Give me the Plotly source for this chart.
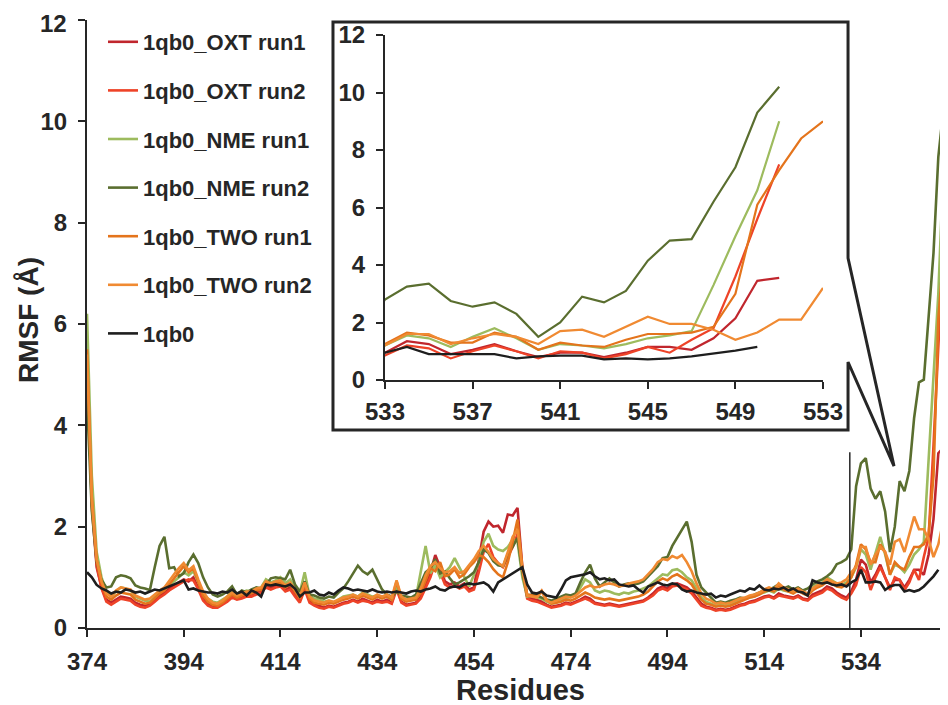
import plotly.graph_objects as go

# ---------------- data ----------------
residues = list(range(374, 554))
main_ticks = [374, 394, 414, 434, 454, 474, 494, 514, 534]
inset_ticks = [533, 537, 541, 545, 549, 553]
y_ticks = [0, 2, 4, 6, 8, 10, 12]

oxt_run1 = [
    5.20, 2.40, 1.20, 0.80, 0.56, 0.50, 0.56, 0.62, 0.60, 0.58,
    0.50, 0.46, 0.44, 0.46, 0.56, 0.64, 0.70, 0.78, 0.84, 0.90,
    0.96, 0.92, 1.00, 0.80, 0.58, 0.48, 0.44, 0.42, 0.48, 0.56,
    0.64, 0.58, 0.62, 0.64, 0.66, 0.70, 0.72, 0.84, 0.80, 0.84,
    0.86, 0.76, 0.80, 0.66, 0.54, 0.80, 0.54, 0.46, 0.44, 0.40,
    0.44, 0.42, 0.46, 0.50, 0.52, 0.56, 0.52, 0.58, 0.54, 0.50,
    0.56, 0.52, 0.56, 0.50, 0.80, 0.52, 0.46, 0.48, 0.50, 0.62,
    0.86, 1.10, 1.44, 1.20, 0.92, 0.86, 0.90, 0.82, 0.88, 0.76,
    0.80, 1.35, 1.90, 2.10, 2.00, 2.02, 1.88, 2.24, 2.22, 2.37,
    1.20, 0.62, 0.58, 0.56, 0.52, 0.46, 0.42, 0.44, 0.46, 0.50,
    0.48, 0.52, 0.56, 0.62, 0.58, 0.50, 0.48, 0.46, 0.48, 0.46,
    0.44, 0.46, 0.48, 0.50, 0.52, 0.54, 0.60, 0.68, 0.78, 0.82,
    0.78, 0.86, 0.88, 0.84, 0.80, 0.72, 0.60, 0.48, 0.42, 0.40,
    0.36, 0.38, 0.36, 0.38, 0.42, 0.46, 0.48, 0.52, 0.54, 0.58,
    0.62, 0.64, 0.60, 0.68, 0.64, 0.62, 0.60, 0.64, 0.58, 0.56,
    0.66, 0.70, 0.74, 0.82, 0.78, 0.70, 0.64, 0.60, 0.72, 0.95,
    1.35, 1.25, 0.90, 1.05, 1.25, 1.00, 0.80, 0.95, 0.95, 0.80,
    0.95, 1.15, 1.15, 1.05, 1.45, 2.15, 3.45, 3.55,
    None, None,
]

oxt_run2 = [
    5.40, 2.50, 1.25, 0.78, 0.52, 0.46, 0.52, 0.58, 0.56, 0.54,
    0.46, 0.42, 0.40, 0.44, 0.52, 0.60, 0.66, 0.74, 0.80, 0.86,
    0.92, 0.96, 0.94, 0.76, 0.54, 0.44, 0.40, 0.40, 0.46, 0.52,
    0.60, 0.56, 0.58, 0.62, 0.62, 0.66, 0.70, 0.80, 0.76, 0.80,
    0.82, 0.72, 0.76, 0.62, 0.50, 0.76, 0.50, 0.44, 0.40, 0.38,
    0.42, 0.40, 0.44, 0.48, 0.50, 0.54, 0.50, 0.54, 0.52, 0.48,
    0.52, 0.50, 0.52, 0.48, 0.76, 0.50, 0.44, 0.46, 0.48, 0.58,
    0.80, 1.00, 1.30, 1.10, 0.86, 0.80, 0.84, 0.78, 0.82, 0.72,
    0.76, 1.10, 1.50, 1.66, 1.40, 1.28, 1.20, 1.40, 1.60, 1.85,
    1.10, 0.58, 0.54, 0.52, 0.48, 0.44, 0.40, 0.42, 0.44, 0.48,
    0.46, 0.50, 0.54, 0.58, 0.54, 0.48, 0.46, 0.44, 0.46, 0.44,
    0.42, 0.44, 0.46, 0.48, 0.50, 0.52, 0.58, 0.64, 0.74, 0.78,
    0.74, 0.82, 0.84, 0.80, 0.76, 0.68, 0.56, 0.44, 0.40, 0.38,
    0.34, 0.36, 0.34, 0.36, 0.40, 0.44, 0.46, 0.50, 0.52, 0.56,
    0.60, 0.62, 0.58, 0.64, 0.62, 0.60, 0.58, 0.62, 0.56, 0.54,
    0.62, 0.66, 0.70, 0.78, 0.74, 0.66, 0.60, 0.56, 0.68, 0.85,
    1.20, 1.10, 0.75, 1.00, 1.20, 1.00, 0.75, 1.00, 0.95, 0.75,
    0.90, 1.15, 0.95, 1.40, 1.80, 3.60, 5.60, 7.50,
    None, None,
]

nme_run1 = [
    6.20, 3.00, 1.50, 1.00, 0.72, 0.62, 0.72, 0.80, 0.78, 0.74,
    0.62, 0.58, 0.54, 0.52, 0.62, 0.70, 0.76, 0.86, 0.92, 1.00,
    1.10, 1.04, 1.12, 0.92, 0.70, 0.58, 0.52, 0.50, 0.56, 0.62,
    0.74, 0.66, 0.70, 0.74, 0.72, 0.76, 0.80, 0.96, 0.90, 0.94,
    1.00, 0.88, 0.96, 0.80, 0.70, 1.10, 0.64, 0.58, 0.56, 0.52,
    0.54, 0.50, 0.56, 0.62, 0.64, 0.66, 0.62, 0.70, 0.66, 0.62,
    0.64, 0.60, 0.62, 0.56, 0.84, 0.60, 0.54, 0.56, 0.60, 1.10,
    1.62, 1.08, 1.24, 1.00, 1.10, 1.20, 1.38, 1.20, 1.00, 0.82,
    1.05, 1.30, 1.70, 1.86, 1.62, 1.55, 1.52, 1.60, 1.74, 1.70,
    1.00, 0.62, 0.64, 0.60, 0.58, 0.52, 0.48, 0.50, 0.54, 0.58,
    0.62, 0.64, 0.80, 0.96, 0.90, 0.74, 0.70, 0.74, 0.72, 0.68,
    0.66, 0.70, 0.68, 0.72, 0.74, 0.78, 0.82, 0.90, 0.98, 1.06,
    1.04, 1.14, 1.16, 1.10, 1.00, 0.94, 0.78, 0.60, 0.52, 0.48,
    0.44, 0.46, 0.44, 0.48, 0.52, 0.56, 0.58, 0.60, 0.62, 0.68,
    0.70, 0.74, 0.70, 0.78, 0.74, 0.72, 0.70, 0.74, 0.70, 0.66,
    0.80, 0.86, 0.90, 1.00, 0.94, 0.88, 0.84, 0.90, 1.00, 1.20,
    1.55, 1.45, 1.15, 1.50, 1.80, 1.45, 1.05, 1.25, 1.20, 1.10,
    1.25, 1.45, 1.55, 1.70, 3.30, 5.00, 6.60, 9.00,
    None, None,
]

nme_run2 = [
    4.50, 2.30, 1.30, 0.95, 0.80, 0.82, 1.00, 1.04, 1.02, 0.98,
    0.84, 0.80, 0.78, 0.75, 1.20, 1.62, 1.80, 1.18, 1.20, 1.02,
    1.08, 1.30, 1.45, 1.28, 1.00, 0.80, 0.66, 0.62, 0.66, 0.72,
    0.82, 0.66, 0.74, 0.70, 0.76, 0.80, 0.78, 0.84, 0.98, 1.00,
    0.98, 0.96, 1.15, 0.86, 0.72, 0.92, 0.66, 0.64, 0.60, 0.58,
    0.62, 0.60, 0.70, 0.78, 0.92, 1.08, 1.23, 1.12, 1.06, 1.15,
    0.96, 0.76, 0.66, 0.62, 0.72, 0.64, 0.62, 0.60, 0.66, 0.88,
    1.10, 1.18, 1.36, 1.08, 1.12, 0.98, 0.86, 0.90, 0.96, 1.02,
    1.10, 1.30, 1.55, 1.48, 1.32, 1.24, 1.22, 1.46, 1.60, 1.78,
    1.10, 0.64, 0.66, 0.64, 0.60, 0.56, 0.54, 0.58, 0.62, 0.66,
    0.64, 0.68, 0.90, 1.10, 1.25, 0.98, 0.82, 0.90, 0.98, 0.90,
    0.82, 0.86, 0.88, 0.86, 0.88, 0.92, 1.02, 1.10, 1.22, 1.38,
    1.40, 1.62, 1.78, 1.92, 2.10, 1.70, 1.05, 0.80, 0.70, 0.62,
    0.50, 0.52, 0.50, 0.54, 0.56, 0.60, 0.58, 0.62, 0.66, 0.70,
    0.74, 0.76, 0.80, 0.86, 0.78, 0.82, 0.76, 0.80, 0.74, 0.78,
    0.86, 0.92, 0.96, 1.02, 1.10, 1.26, 1.30, 1.36, 1.55, 2.80,
    3.25, 3.35, 2.75, 2.55, 2.70, 2.30, 1.50, 2.00, 2.90, 2.70,
    3.10, 4.15, 4.85, 4.90, 6.20, 7.40, 9.30, 10.20,
    None, None,
]

two_run1 = [
    5.50, 2.60, 1.35, 0.90, 0.62, 0.56, 0.64, 0.70, 0.68, 0.66,
    0.56, 0.52, 0.48, 0.50, 0.60, 0.68, 0.74, 0.86, 0.98, 1.10,
    1.22, 1.10, 1.18, 0.90, 0.64, 0.52, 0.46, 0.44, 0.50, 0.58,
    0.66, 0.60, 0.64, 0.68, 0.68, 0.74, 0.76, 0.88, 0.84, 0.88,
    0.90, 0.80, 0.86, 0.72, 0.58, 0.86, 0.58, 0.50, 0.48, 0.46,
    0.50, 0.48, 0.52, 0.56, 0.58, 0.62, 0.58, 0.64, 0.60, 0.56,
    0.62, 0.58, 0.62, 0.56, 0.92, 0.58, 0.52, 0.54, 0.56, 0.70,
    0.96, 1.18, 1.12, 1.30, 1.02, 1.06, 1.16, 1.00, 1.06, 1.20,
    1.30, 1.44, 1.40, 1.30, 1.16, 1.06, 1.00, 1.30, 1.70, 2.14,
    1.20, 0.66, 0.64, 0.62, 0.74, 0.56, 0.48, 0.50, 0.52, 0.56,
    0.54, 0.58, 0.64, 0.70, 0.66, 0.60, 0.58, 0.56, 0.58, 0.56,
    0.54, 0.56, 0.58, 0.60, 0.62, 0.66, 0.72, 0.82, 0.92, 0.98,
    0.94, 1.02, 1.06, 1.00, 0.94, 0.86, 0.70, 0.56, 0.48, 0.46,
    0.42, 0.44, 0.42, 0.44, 0.48, 0.52, 0.56, 0.60, 0.62, 0.66,
    0.72, 0.76, 0.72, 0.84, 0.76, 0.72, 0.68, 0.74, 0.68, 0.64,
    0.74, 0.80, 0.84, 0.92, 0.88, 0.82, 0.80, 0.86, 1.00, 1.25,
    1.65, 1.55, 1.30, 1.30, 1.65, 1.50, 1.05, 1.30, 1.20, 1.15,
    1.40, 1.60, 1.60, 1.65, 1.85, 3.00, 6.10, 7.30, 8.40, 9.00,
]

two_run2 = [
    5.40, 2.50, 1.35, 0.92, 0.68, 0.62, 0.74, 0.80, 0.78, 0.76,
    0.64, 0.60, 0.56, 0.58, 0.66, 0.74, 0.80, 0.94, 1.06, 1.18,
    1.28, 1.14, 1.22, 0.96, 0.72, 0.58, 0.50, 0.48, 0.54, 0.62,
    0.70, 0.64, 0.68, 0.72, 0.72, 0.78, 0.80, 0.92, 0.88, 0.92,
    0.94, 0.84, 0.90, 0.76, 0.62, 0.90, 0.62, 0.54, 0.52, 0.50,
    0.54, 0.52, 0.56, 0.60, 0.62, 0.66, 0.62, 0.68, 0.64, 0.60,
    0.66, 0.62, 0.66, 0.60, 0.94, 0.62, 0.56, 0.58, 0.60, 0.78,
    1.04, 1.22, 1.30, 1.18, 1.10, 1.12, 1.20, 1.08, 1.12, 1.24,
    1.36, 1.52, 1.62, 1.50, 1.36, 1.28, 1.22, 1.50, 1.80, 1.94,
    1.16, 0.64, 0.62, 0.60, 0.72, 0.54, 0.50, 0.54, 0.58, 0.62,
    0.60, 0.64, 0.72, 0.80, 0.84, 0.80, 0.82, 0.86, 0.88, 0.86,
    0.82, 0.84, 0.88, 0.90, 0.92, 0.96, 1.06, 1.16, 1.30, 1.36,
    1.34, 1.42, 1.38, 1.44, 1.30, 1.12, 0.88, 0.68, 0.58, 0.54,
    0.48, 0.50, 0.48, 0.50, 0.54, 0.58, 0.60, 0.64, 0.66, 0.70,
    0.76, 0.80, 0.76, 0.88, 0.80, 0.76, 0.72, 0.78, 0.72, 0.68,
    0.78, 0.84, 0.88, 0.96, 0.92, 0.88, 0.90, 0.96, 1.10, 1.20,
    1.60, 1.60, 1.25, 1.45, 1.60, 1.50, 1.25, 1.70, 1.75, 1.50,
    1.85, 2.20, 1.95, 1.95, 1.75, 1.40, 1.65, 2.10, 2.10, 3.20,
]

wild_type = [
    1.10, 1.00, 0.85, 0.78, 0.74, 0.68, 0.72, 0.70, 0.76, 0.74,
    0.70, 0.72, 0.68, 0.72, 0.76, 0.74, 0.78, 0.82, 0.86, 0.90,
    0.94, 0.76, 0.78, 0.74, 0.72, 0.70, 0.70, 0.68, 0.72, 0.70,
    0.76, 0.68, 0.72, 0.64, 0.74, 0.70, 0.62, 0.86, 0.84, 0.86,
    0.84, 0.82, 0.86, 0.78, 0.62, 0.70, 0.70, 0.74, 0.66, 0.64,
    0.70, 0.66, 0.74, 0.80, 0.78, 0.74, 0.76, 0.74, 0.72, 0.76,
    0.72, 0.70, 0.72, 0.70, 0.72, 0.70, 0.68, 0.72, 0.74, 0.72,
    0.76, 0.78, 0.82, 0.76, 0.74, 0.80, 0.82, 0.80, 0.86, 0.88,
    0.86, 0.88, 0.90, 0.84, 0.72, 0.90, 0.96, 1.02, 1.08, 1.14,
    1.20, 0.86, 0.70, 0.68, 0.72, 0.64, 0.62, 0.60, 0.76, 0.94,
    1.00, 1.02, 1.04, 1.06, 1.10, 1.02, 0.96, 0.98, 0.94, 0.96,
    0.86, 0.84, 0.82, 0.84, 0.76, 0.70, 0.82, 0.86, 0.90, 0.86,
    0.84, 0.88, 0.86, 0.76, 0.72, 0.74, 0.70, 0.68, 0.66, 0.68,
    0.60, 0.64, 0.62, 0.66, 0.70, 0.74, 0.72, 0.78, 0.76, 0.84,
    0.76, 0.74, 0.78, 0.76, 0.80, 0.74, 0.78, 0.72, 0.70, 0.64,
    0.94, 0.90, 0.88, 0.90, 0.86, 0.84, 0.86, 0.82, 0.90, 0.95,
    1.15, 0.90, 0.90, 0.92, 0.90, 0.75, 0.82, 0.85, 0.85, 0.72,
    0.75, 0.72, 0.75, 0.82, 0.92, 1.02, 1.15,
    None, None, None,
]

series_names = ["1qb0_OXT run1", "1qb0_OXT run2", "1qb0_NME run1",
                "1qb0_NME run2", "1qb0_TWO run1", "1qb0_TWO run2", "1qb0"]
series_values = [oxt_run1, oxt_run2, nme_run1, nme_run2, two_run1, two_run2, wild_type]
series_colors = ["#C0262D", "#EE4328", "#9DBB5E", "#5A6E2F", "#E4741C", "#F08A32", "#1E1E1E"]

# ---------------- figure ----------------
OFF = 8                      # page body margin in the browser
W, H = 948 - OFF, 705 - OFF
L, R, T, B = 87 - OFF, 0, 20 - OFF, 77
PW, PH = W - L - R, H - T - B
FONT = "Liberation Sans, Arial, Helvetica, sans-serif"
AX = "#262626"


def px(xt):
    """target-image x pixel -> paper x"""
    return (xt - OFF - L) / PW


def py(yt):
    """target-image y pixel -> paper y"""
    return (H - B - (yt - OFF)) / PH


fig = go.Figure()

for i, (name, vals, col) in enumerate(zip(series_names, series_values, series_colors)):
    fig.add_trace(go.Scatter(
        x=residues, y=vals, name=name, mode="lines",
        line=dict(color=col, width=2.6), legendgroup=f"g{i}",
        xaxis="x", yaxis="y", connectgaps=False,
    ))
for i, (name, vals, col) in enumerate(zip(series_names, series_values, series_colors)):
    fig.add_trace(go.Scatter(
        x=residues, y=vals, name=name, mode="lines",
        line=dict(color=col, width=2.2), showlegend=False,
        xaxis="x2", yaxis="y2", connectgaps=False,
    ))

TICK_SIZE = 24
tickfont = dict(family=FONT, size=TICK_SIZE, color=AX, weight="bold")
axis_common = dict(showline=True, linewidth=2, linecolor=AX, ticks="outside",
                   ticklen=7, tickwidth=2, tickcolor=AX, showgrid=False,
                   zeroline=False, tickfont=tickfont, automargin=False,
                   ticklabeloverflow="allow")

# the topmost main y label sits at the very top of the page, so it is drawn
# as an annotation nudged slightly inward instead of an axis label
main_y_text = [str(t) for t in y_ticks[:-1]] + [""]

fig.update_layout(
    template="none",
    width=W, height=H, autosize=False,
    margin=dict(l=L, r=R, t=T, b=B, pad=0, autoexpand=False),
    paper_bgcolor="white", plot_bgcolor="white",
    xaxis=dict(domain=[0, 1], range=[374, 552], tickvals=main_ticks,
               ticktext=[str(t) for t in main_ticks], anchor="y",
               ticklabelstandoff=4, **axis_common),
    yaxis=dict(domain=[0, 1], range=[0, 12], tickvals=y_ticks, ticktext=main_y_text,
               anchor="x", ticklabelstandoff=6, **axis_common),
    xaxis2=dict(domain=[px(385), px(823)], range=[533, 553], tickvals=inset_ticks,
                ticktext=[str(t) for t in inset_ticks], anchor="y2",
                ticklabelstandoff=2, **axis_common),
    yaxis2=dict(domain=[py(380), py(35)], range=[0, 12], tickvals=y_ticks,
                anchor="x2", ticklabelstandoff=6, **axis_common),
    showlegend=True,
    legend=dict(x=px(103), y=py(21), xanchor="left", yanchor="top",
                font=dict(family=FONT, size=22, color=AX, weight="bold"),
                bgcolor="rgba(0,0,0,0)", borderwidth=0,
                tracegroupgap=17, itemwidth=30),
)

fig.add_annotation(text=str(y_ticks[-1]), xref="paper", yref="paper",
                   x=px(68), y=py(23), xanchor="right", yanchor="middle",
                   showarrow=False, borderpad=0,
                   font=dict(family=FONT, size=TICK_SIZE, color=AX, weight="bold"))

# inset frame with callout pointer
pts = [(333, 22), (848, 22), (848, 258), (894, 466), (848, 362), (848, 430), (333, 430)]
path = "M " + " L ".join(f"{px(a):.4f},{py(b):.4f}" for a, b in pts) + " Z"
fig.add_shape(type="path", path=path, xref="paper", yref="paper",
              line=dict(color=AX, width=3), fillcolor="rgba(0,0,0,0)", layer="above")

# marker line in main plot
fig.add_shape(type="line", xref="x", yref="y", x0=531.7, x1=531.7, y0=0, y1=3.47,
              line=dict(color=AX, width=1.5))

fig.add_annotation(text="RMSF (Å)", xref="paper", yref="paper", x=px(28), y=py(320),
                   xanchor="center", yanchor="middle", textangle=-90, showarrow=False,
                   font=dict(family=FONT, size=28, color=AX, weight="bold"))
fig.add_annotation(text="Residues", xref="paper", yref="paper", x=px(520), y=py(690),
                   xanchor="center", yanchor="middle", showarrow=False,
                   font=dict(family=FONT, size=29, color=AX, weight="bold"))

fig.write_html("out.html")
